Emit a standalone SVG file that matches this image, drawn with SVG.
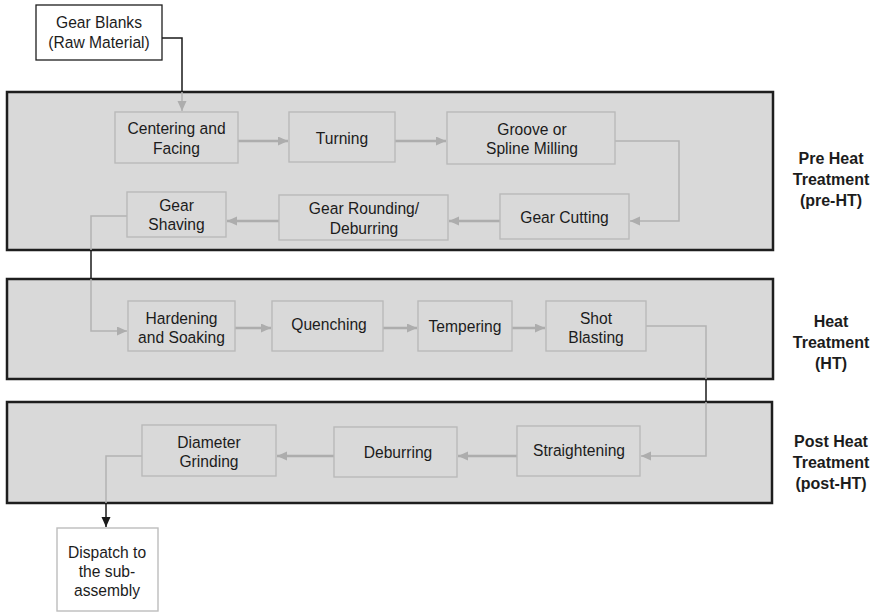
<svg xmlns="http://www.w3.org/2000/svg" width="875" height="612" viewBox="0 0 875 612">
  <style>
    .panel { fill: #d9d9d9; stroke: #1e1e1e; stroke-width: 2.5; }
    .step { fill: none; stroke: #b9b9b9; stroke-width: 1.4; }
    .ext { fill: #ffffff; stroke: #1e1e1e; stroke-width: 1.3; }
    .ext-light { fill: #ffffff; stroke: #bdbdbd; stroke-width: 1.4; }
    text { font-family: "Liberation Sans", Arial, sans-serif; font-size: 16.8px; fill: #1c1c1c; text-anchor: middle; }
    .phase { font-weight: bold; font-size: 16px; }
    .flow { fill: none; stroke: #adadad; stroke-width: 2.5; }
    .route { fill: none; stroke: #b3b3b3; stroke-width: 1.5; }
    .link { fill: none; stroke: #1a1a1a; stroke-width: 1.5; }
  </style>
  <defs>
    <marker id="arrow-gray" markerUnits="userSpaceOnUse" markerWidth="11" markerHeight="10" refX="10" refY="4.5" orient="auto">
      <path d="M0,0 L10,4.5 L0,9 Z" fill="#adadad"/>
    </marker>
    <marker id="arrow-black" markerUnits="userSpaceOnUse" markerWidth="11" markerHeight="10" refX="10" refY="4.5" orient="auto">
      <path d="M0,0 L10,4.5 L0,9 Z" fill="#1a1a1a"/>
    </marker>
  </defs>

  <!-- phase panels -->
  <g id="panel-pre-ht">
    <rect class="panel" x="7" y="92" width="766" height="158"/>
    <text class="phase" x="831" y="164">Pre Heat</text>
    <text class="phase" x="831" y="185">Treatment</text>
    <text class="phase" x="831" y="206">(pre-HT)</text>
  </g>
  <g id="panel-ht">
    <rect class="panel" x="7" y="279" width="766" height="100"/>
    <text class="phase" x="831" y="327">Heat</text>
    <text class="phase" x="831" y="348">Treatment</text>
    <text class="phase" x="831" y="369">(HT)</text>
  </g>
  <g id="panel-post-ht">
    <rect class="panel" x="7" y="402" width="765" height="101"/>
    <text class="phase" x="831" y="447">Post Heat</text>
    <text class="phase" x="831" y="468">Treatment</text>
    <text class="phase" x="831" y="489">(post-HT)</text>
  </g>

  <!-- connectors -->
  <g id="connectors">
    <!-- raw material into the line -->
    <path class="link" d="M162,38 H182 V92"/>
    <path class="route" d="M182,92 V111" marker-end="url(#arrow-gray)"/>
    <!-- pre-HT row 1 -->
    <path class="flow" d="M238,141 H288" marker-end="url(#arrow-gray)"/>
    <path class="flow" d="M395,141 H446" marker-end="url(#arrow-gray)"/>
    <path class="route" d="M615,141 H679 V221 H630" marker-end="url(#arrow-gray)"/>
    <!-- pre-HT row 2 -->
    <path class="flow" d="M500,221 H449" marker-end="url(#arrow-gray)"/>
    <path class="flow" d="M279,221 H227" marker-end="url(#arrow-gray)"/>
    <!-- pre-HT to HT -->
    <path class="route" d="M127,216 H91 V250"/>
    <path class="link" d="M91,250 V279"/>
    <path class="route" d="M91,279 V331 H127" marker-end="url(#arrow-gray)"/>
    <!-- HT row -->
    <path class="flow" d="M235,328 H271" marker-end="url(#arrow-gray)"/>
    <path class="flow" d="M383,328 H417" marker-end="url(#arrow-gray)"/>
    <path class="flow" d="M512,328 H545" marker-end="url(#arrow-gray)"/>
    <!-- HT to post-HT -->
    <path class="route" d="M646,326 H706 V379"/>
    <path class="link" d="M706,379 V402"/>
    <path class="route" d="M706,402 V456 H641" marker-end="url(#arrow-gray)"/>
    <!-- post-HT row -->
    <path class="flow" d="M517,456 H458" marker-end="url(#arrow-gray)"/>
    <path class="flow" d="M334,456 H277" marker-end="url(#arrow-gray)"/>
    <!-- out to dispatch -->
    <path class="route" d="M142,456 H106 V503"/>
    <path class="link" d="M106,503 V527" stroke-width="2" marker-end="url(#arrow-black)"/>
  </g>

  <!-- outside nodes; labels are set slightly condensed -->
  <g id="gear-blanks">
    <rect class="ext" x="36" y="5" width="126" height="55"/>
    <text transform="translate(99 28) scale(0.93 1)">Gear Blanks</text>
    <text transform="translate(99 48) scale(0.93 1)">(Raw Material)</text>
  </g>
  <g id="dispatch">
    <rect class="ext-light" x="57" y="528" width="101" height="83"/>
    <text transform="translate(107 558) scale(0.93 1)">Dispatch to</text>
    <text transform="translate(107 577) scale(0.93 1)">the sub-</text>
    <text transform="translate(107 596) scale(0.93 1)">assembly</text>
  </g>

  <!-- pre-HT steps -->
  <g id="centering-facing">
    <rect class="step" x="115" y="112" width="123" height="51"/>
    <text transform="translate(176.5 134) scale(0.93 1)">Centering and</text>
    <text transform="translate(176.5 154) scale(0.93 1)">Facing</text>
  </g>
  <g id="turning">
    <rect class="step" x="289" y="112" width="106" height="50"/>
    <text transform="translate(342 144) scale(0.93 1)">Turning</text>
  </g>
  <g id="groove-spline-milling">
    <rect class="step" x="447" y="112" width="168" height="52"/>
    <text transform="translate(532 135) scale(0.93 1)">Groove or</text>
    <text transform="translate(532 154) scale(0.93 1)">Spline Milling</text>
  </g>
  <g id="gear-cutting">
    <rect class="step" x="500" y="194" width="129" height="45"/>
    <text transform="translate(564.5 223) scale(0.93 1)">Gear Cutting</text>
  </g>
  <g id="gear-rounding-deburring">
    <rect class="step" x="279" y="195" width="169" height="45"/>
    <text transform="translate(364 214) scale(0.93 1)">Gear Rounding/</text>
    <text transform="translate(364 234) scale(0.93 1)">Deburring</text>
  </g>
  <g id="gear-shaving">
    <rect class="step" x="127" y="192" width="99" height="45"/>
    <text transform="translate(176.5 211) scale(0.93 1)">Gear</text>
    <text transform="translate(176.5 230) scale(0.93 1)">Shaving</text>
  </g>

  <!-- HT steps -->
  <g id="hardening-soaking">
    <rect class="step" x="128" y="301" width="107" height="50"/>
    <text transform="translate(181.5 324) scale(0.93 1)">Hardening</text>
    <text transform="translate(181.5 343) scale(0.93 1)">and Soaking</text>
  </g>
  <g id="quenching">
    <rect class="step" x="272" y="301" width="111" height="50"/>
    <text transform="translate(329 330) scale(0.93 1)">Quenching</text>
  </g>
  <g id="tempering">
    <rect class="step" x="418" y="301" width="94" height="50"/>
    <text transform="translate(465 332) scale(0.93 1)">Tempering</text>
  </g>
  <g id="shot-blasting">
    <rect class="step" x="546" y="301" width="100" height="50"/>
    <text transform="translate(596 324) scale(0.93 1)">Shot</text>
    <text transform="translate(596 343) scale(0.93 1)">Blasting</text>
  </g>

  <!-- post-HT steps -->
  <g id="straightening">
    <rect class="step" x="517" y="426" width="123" height="50"/>
    <text transform="translate(579 456) scale(0.93 1)">Straightening</text>
  </g>
  <g id="deburring">
    <rect class="step" x="334" y="427" width="123" height="50"/>
    <text transform="translate(398 458) scale(0.93 1)">Deburring</text>
  </g>
  <g id="diameter-grinding">
    <rect class="step" x="142" y="425" width="134" height="51"/>
    <text transform="translate(209 448) scale(0.93 1)">Diameter</text>
    <text transform="translate(209 467) scale(0.93 1)">Grinding</text>
  </g>
</svg>
